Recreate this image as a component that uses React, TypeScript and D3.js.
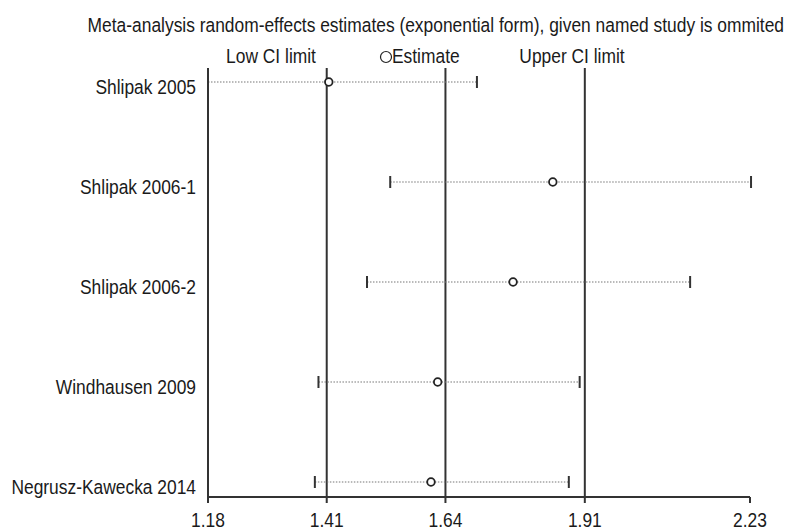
import React from "react";
import * as d3 from "d3";

const studies = ["Shlipak 2005", "Shlipak 2006-1", "Shlipak 2006-2", "Windhausen 2009", "Negrusz-Kawecka 2014"];
const estimates = [1.414, 1.848, 1.771, 1.625, 1.612];
const lowerCI = [1.18, 1.533, 1.488, 1.394, 1.387];
const upperCI = [1.701, 2.232, 2.114, 1.9, 1.879];
const tickValues = [1.18, 1.41, 1.64, 1.91, 2.23];
const refLines = [1.18, 1.41, 1.64, 1.91];
const title = "Meta-analysis random-effects estimates (exponential form), given named study is ommited";

const FS = 17.4;
const SY = 1.2;

function T(props: { x: number; y: number; anchor?: string; children: React.ReactNode }) {
  return (
    <text
      transform={`translate(${props.x},${props.y}) scale(1,${SY})`}
      fontSize={FS}
      textAnchor={props.anchor || "start"}
      fill="#1a1a1a"
    >
      {props.children}
    </text>
  );
}

export default function App() {
  const W = 785, H = 530;
  const x = d3.scaleLinear().domain([1.18, 2.23]).range([208, 750]);
  const y = d3.scalePoint<string>().domain(studies).range([82, 482]);
  const axisY = 497;
  const font = "'Liberation Sans', Arial, sans-serif";
  const dark = "#333";
  return (
    <svg width={W} height={H} style={{ position: "absolute", left: 0, top: 0, background: "#fff" }} fontFamily={font}>
      <rect width={W} height={H} fill="#fff" />
      <T x={784} y={32} anchor="end">{title}</T>
      <T x={271} y={63} anchor="middle">Low CI limit</T>
      <circle cx={386} cy={57} r={5.5} fill="none" stroke="#222" strokeWidth={1.2} />
      <T x={392} y={63}>Estimate</T>
      <T x={572} y={63} anchor="middle">Upper CI limit</T>
      {refLines.map((v, i) => (
        <line key={"r" + i} x1={x(v)} x2={x(v)} y1={68} y2={503} stroke={dark} strokeWidth={2} />
      ))}
      <line x1={x(2.23)} x2={x(2.23)} y1={axisY} y2={503} stroke={dark} strokeWidth={2} />
      <line x1={x(1.18)} x2={x(2.23)} y1={axisY} y2={axisY} stroke={dark} strokeWidth={2} />
      {tickValues.map((v, i) => (
        <T key={"t" + i} x={x(v)} y={527} anchor="middle">{v.toFixed(2)}</T>
      ))}
      {studies.map((s, i) => {
        const yy = y(s)!;
        return (
          <g key={s}>
            <T x={196} y={yy + 12} anchor="end">{s}</T>
            <line x1={x(lowerCI[i])} x2={x(upperCI[i])} y1={yy} y2={yy} stroke="#777" strokeWidth={1.2} strokeDasharray="1.5,1.5" />
            <line x1={x(lowerCI[i])} x2={x(lowerCI[i])} y1={yy - 6} y2={yy + 6} stroke={dark} strokeWidth={2} />
            <line x1={x(upperCI[i])} x2={x(upperCI[i])} y1={yy - 6} y2={yy + 6} stroke={dark} strokeWidth={2} />
            <circle cx={x(estimates[i])} cy={yy} r={3.8} fill="#fff" stroke="#222" strokeWidth={1.8} />
          </g>
        );
      })}
    </svg>
  );
}
